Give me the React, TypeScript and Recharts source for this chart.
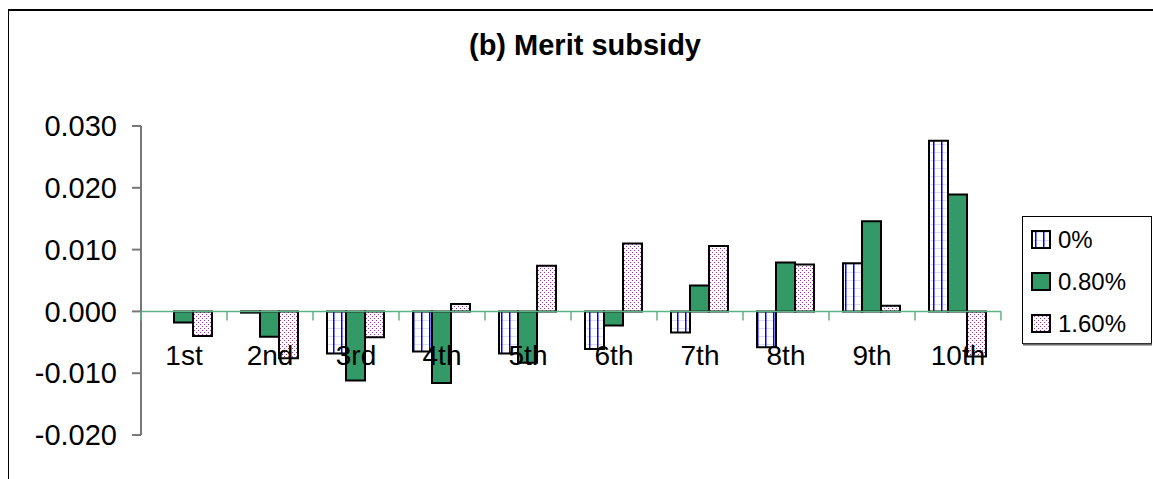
import { Bar, BarChart, Legend, ReferenceLine, XAxis, YAxis } from 'recharts'

const categories = ['1st', '2nd', '3rd', '4th', '5th', '6th', '7th', '8th', '9th', '10th']
const rate0 = [0, -0.0002, -0.0068, -0.0065, -0.0068, -0.0061, -0.0034, -0.0058, 0.0078, 0.0276]
const rate080 = [-0.0018, -0.0041, -0.0112, -0.0116, -0.0083, -0.0023, 0.0042, 0.0079, 0.0146, 0.0189]
const rate160 = [-0.004, -0.0076, -0.0042, 0.0012, 0.0074, 0.011, 0.0106, 0.0076, 0.0009, -0.0073]
const seriesNames = ['0%', '0.80%', '1.60%']
const yTicks = [-0.02, -0.01, 0, 0.01, 0.02, 0.03]

const data = categories.map((name, i) => ({ name, r0: rate0[i], r1: rate080[i], r2: rate160[i] }))

const FONT = '"Liberation Sans", Arial, sans-serif'
const W = 1153
const H = 479
const MARGIN = { top: 126, right: 152, bottom: 43, left: 0 }
const Y_AXIS_W = 141
const X_AXIS_H = 1
const Y_MIN = -0.02
const Y_MAX = 0.03
const PLOT_W = W - MARGIN.right - MARGIN.left - Y_AXIS_W
const PLOT_H = H - MARGIN.top - MARGIN.bottom - X_AXIS_H
const ZERO_Y = MARGIN.top + (PLOT_H * Y_MAX) / (Y_MAX - Y_MIN)
const BAND = PLOT_W / categories.length
const AXIS_GREEN = '#5fb285'

const fills = ['url(#pat-grid)', '#339966', 'url(#pat-dots)']

// category labels sit just under the zero line, like Excel's "next to axis"
function renderCategoryTick(props: any) {
  const { x, payload, index } = props
  return (
    <g key={`tick-${index}`}>
      <line x1={x - BAND / 2} x2={x - BAND / 2} y1={ZERO_Y} y2={ZERO_Y + 9} stroke={AXIS_GREEN} strokeWidth={1.5} />
      {index === categories.length - 1 && (
        <line x1={x + BAND / 2} x2={x + BAND / 2} y1={ZERO_Y} y2={ZERO_Y + 9} stroke={AXIS_GREEN} strokeWidth={1.5} />
      )}
      <text x={x} y={ZERO_Y + 54} textAnchor="middle" fontSize={28} fontFamily={FONT} fill="#000">
        {payload.value}
      </text>
    </g>
  )
}

function LegendBox() {
  return (
    <svg width={131} height={130} style={{ display: 'block' }}>
      <rect x={0.5} y={0.5} width={129} height={127} fill="#fff" stroke="#000" strokeWidth={1} />
      <line x1={1} x2={130} y1={128.5} y2={128.5} stroke="#666" strokeWidth={2} />
      {seriesNames.map((name, i) => (
        <g key={name} transform={`translate(0, ${i * 42})`}>
          <rect x={10} y={15} width={18} height={17} fill={fills[i]} stroke="#000" strokeWidth={2} />
          <text x={36} y={32} fontSize={24} fontFamily={FONT} fill="#000">
            {name}
          </text>
        </g>
      ))}
    </svg>
  )
}

export default function App() {
  return (
    <div style={{ position: 'absolute', left: 0, top: 0, width: W, height: H, background: '#fff', overflow: 'hidden' }}>
      <div
        style={{
          position: 'absolute',
          left: 8,
          top: 9,
          width: 1200,
          height: 520,
          borderTop: '2px solid #000',
          borderLeft: '1px solid #000',
        }}
      />
      <div
        style={{
          position: 'absolute',
          left: 0,
          top: 31,
          width: 1170,
          textAlign: 'center',
          fontFamily: FONT,
          fontWeight: 'bold',
          fontSize: 29,
          lineHeight: '29px',
          color: '#000',
        }}
      >
        (b) Merit subsidy
      </div>
      <div style={{ position: 'absolute', left: 0, top: 0 }}>
        <BarChart width={W} height={H} data={data} margin={MARGIN} barCategoryGap={14} barGap={0}>
          <defs>
            <pattern id="pat-grid" patternUnits="userSpaceOnUse" width={8} height={8}>
              <rect width={8} height={8} fill="#fff" />
              <rect x={0} y={0} width={8} height={1} fill="#dcdcf6" />
              <rect x={5} y={0} width={1.5} height={8} fill="#0000ff" />
            </pattern>
            <pattern id="pat-dots" patternUnits="userSpaceOnUse" width={4} height={4}>
              <rect width={4} height={4} fill="#fff" />
              <rect x={0} y={0} width={1} height={1} fill="#993399" />
              <rect x={2} y={2} width={1} height={1} fill="#993399" />
            </pattern>
          </defs>
          <YAxis
            width={Y_AXIS_W}
            domain={[Y_MIN, Y_MAX]}
            ticks={yTicks}
            interval={0}
            allowDataOverflow
            tickFormatter={(v: number) => v.toFixed(3)}
            tickSize={9}
            tickMargin={15}
            axisLine={{ stroke: '#777', strokeWidth: 2 }}
            tickLine={{ stroke: '#777', strokeWidth: 2 }}
            tick={{ fontSize: 29, fontFamily: FONT, fill: '#000' }}
          />
          <Bar dataKey="r0" name={seriesNames[0]} fill={fills[0]} stroke="#000" strokeWidth={2} isAnimationActive={false} />
          <Bar dataKey="r1" name={seriesNames[1]} fill={fills[1]} stroke="#000" strokeWidth={2} isAnimationActive={false} />
          <Bar dataKey="r2" name={seriesNames[2]} fill={fills[2]} stroke="#000" strokeWidth={2} isAnimationActive={false} />
          <ReferenceLine y={0} stroke={AXIS_GREEN} strokeWidth={1.5} />
          <XAxis
            dataKey="name"
            height={X_AXIS_H}
            interval={0}
            axisLine={false}
            tickLine={false}
            tick={renderCategoryTick}
          />
          <Legend
            layout="horizontal"
            align="center"
            verticalAlign="middle"
            content={<LegendBox />}
            wrapperStyle={{ left: 1022, top: 216, width: 131, height: 130 }}
          />
        </BarChart>
      </div>
    </div>
  )
}
